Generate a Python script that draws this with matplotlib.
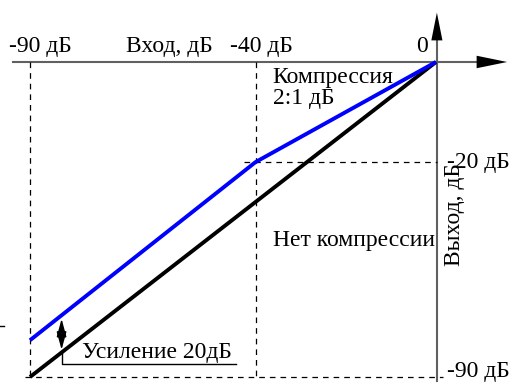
import matplotlib
matplotlib.use('Agg')
import matplotlib.pyplot as plt

# schematic points (input dB -> drawn output level)
inp = [-90, -40, 0]
out_linear = [-90, -40, 0]          # no compression
out_comp = [-79.5, -28.6, 0]        # 2:1 compression above -40 dB, +20 dB gain below
gain_x = -83
gain_lo = -83
gain_hi = -72.6
y_ticks = [-28.6, -88.5]
y_tick_labels = ['-20 дБ', '-90 дБ']
x_ticks = [-90, -40, 0]
x_tick_labels = ['-90 дБ', '-40 дБ', '0']

plt.rcParams['font.family'] = ['Liberation Serif', 'DejaVu Serif']

fig = plt.figure(figsize=(5.11, 3.82), dpi=100)
ax = fig.add_axes([0, 0, 1, 1])
ax.set_xlim(-96.65, 16.63)
ax.set_ylim(-91.43, 17.71)
ax.axis('off')

gray = '#606060'
fs = 17

# axes with arrows
ax.plot([-93.8, 9.5], [0, 0], color=gray, lw=1.5)
ax.plot([0.2, 0.2], [-91.43, 7], color=gray, lw=1.5)
ax.annotate('', xy=(16.4, 0), xytext=(8.5, 0),
            arrowprops=dict(arrowstyle='-|>,head_length=2.2,head_width=0.45', color='black', lw=0))
ax.annotate('', xy=(0.2, 14.9), xytext=(0.2, 6.5),
            arrowprops=dict(arrowstyle='-|>,head_length=2.0,head_width=0.4', color='black', lw=0))

# dashed guides
dash = dict(color='black', lw=0.9, ls=(0, (4.5, 4)))
ax.plot([-90, -90], [0, -90], **dash)
ax.plot([-40, -40], [0, -90], **dash)
ax.plot([-42.5, 0.2], [-28.6, -28.6], **dash)
ax.plot([-91, 1.5], [-90, -90], **dash)

# characteristic lines
ax.plot(inp, out_linear, color='black', lw=2.8, solid_capstyle='butt')
ax.plot(inp, out_comp, color='#0000ff', lw=2.8, solid_capstyle='butt')

# gain marker
ax.annotate('', xy=(gain_x, gain_hi), xytext=(gain_x, gain_lo + 4),
            arrowprops=dict(arrowstyle='-|>,head_length=1.1,head_width=0.3', color='black', lw=1))
ax.annotate('', xy=(gain_x, gain_lo), xytext=(gain_x, gain_hi - 4),
            arrowprops=dict(arrowstyle='-|>,head_length=1.1,head_width=0.3', color='black', lw=1))
ax.plot([gain_x, gain_x, -44.3], [gain_lo, -86.3, -86.3], color='black', lw=1)
ax.text(-78.4, -82.9, 'Усиление 20дБ', fontsize=fs, va='center', ha='left')

# stray tick on the left
ax.plot([-96.65, -95.8], [-75.3, -75.3], color='black', lw=1)

# labels
ax.text(-87.6, 4.3, x_tick_labels[0], fontsize=fs, ha='center', va='center')
ax.text(-38.6, 4.3, x_tick_labels[1], fontsize=fs, ha='center', va='center')
ax.text(-1.8, 4.3, x_tick_labels[2], fontsize=fs, ha='right', va='center')
ax.text(-59.2, 4.3, 'Вход, дБ', fontsize=fs, ha='center', va='center')

for y, lab in zip(y_ticks, y_tick_labels):
    ax.text(2.5, y, lab, fontsize=fs, ha='left', va='center')
ax.text(4.2, -43.7, 'Выход, дБ', fontsize=fs, ha='center', va='center', rotation=90)

ax.text(-36.2, -4.3, 'Компрессия', fontsize=fs, ha='left', va='center')
ax.text(-36.2, -10.3, '2:1 дБ', fontsize=fs, ha='left', va='center')
ax.text(-36.2, -50.9, 'Нет компрессии', fontsize=fs, ha='left', va='center')

fig.savefig('out.png', dpi=100)
